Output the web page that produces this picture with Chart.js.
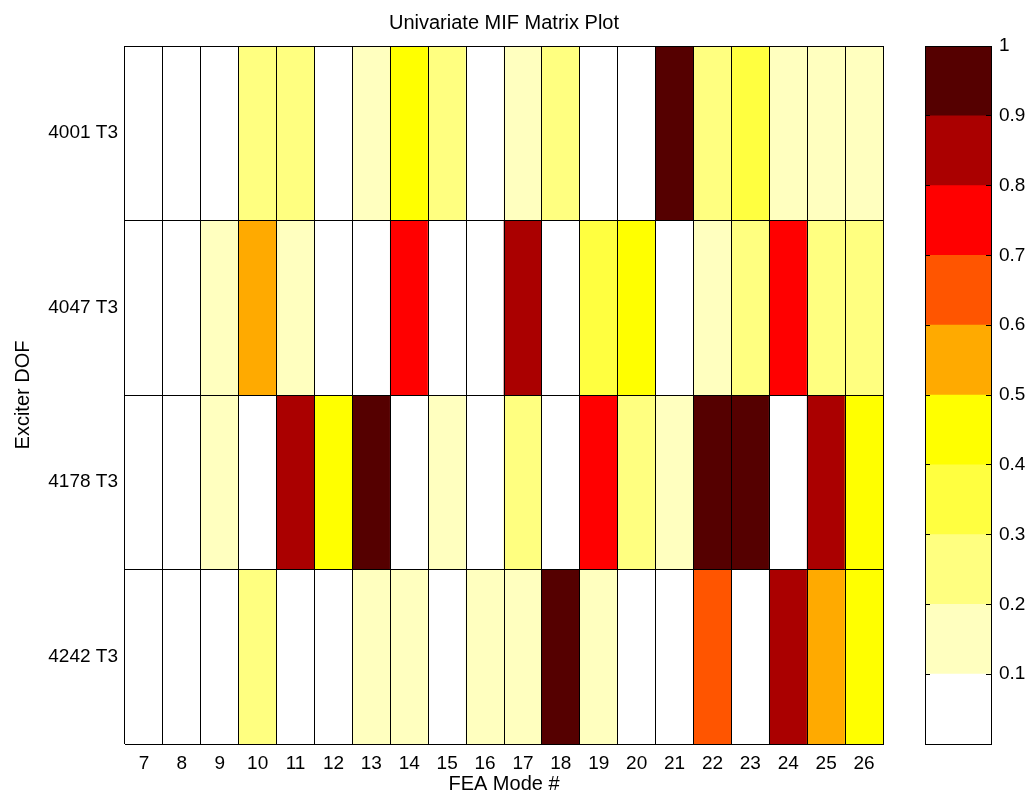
<!DOCTYPE html>
<html>
<head>
<meta charset="utf-8">
<script src="https://cdn.jsdelivr.net/npm/chart.js@4"></script>
<style>
html,body{margin:0;padding:0;background:#fff;}
#wrap{position:relative;width:1029px;height:794px;background:#fff;}
canvas{position:absolute;left:0;top:0;}
</style>
</head>
<body>
<div id="wrap">
<canvas id="main" width="1029" height="794"></canvas>
<canvas id="cbar" width="1029" height="794"></canvas>
</div>
<script>
// ---- data ----
const modes = ['7','8','9','10','11','12','13','14','15','16','17','18','19','20','21','22','23','24','25','26'];
const exciters = ['4001 T3','4047 T3','4178 T3','4242 T3'];
const mif4001 = [0.05,0.05,0.05,0.25,0.25,0.05,0.15,0.45,0.25,0.05,0.15,0.25,0.05,0.05,0.95,0.25,0.35,0.15,0.15,0.15];
const mif4047 = [0.05,0.05,0.15,0.55,0.15,0.05,0.05,0.75,0.05,0.05,0.85,0.05,0.35,0.45,0.05,0.15,0.25,0.75,0.25,0.25];
const mif4178 = [0.05,0.05,0.15,0.05,0.85,0.45,0.95,0.05,0.15,0.05,0.25,0.05,0.75,0.25,0.15,0.95,0.95,0.05,0.85,0.45];
const mif4242 = [0.05,0.05,0.05,0.25,0.05,0.05,0.15,0.15,0.05,0.15,0.15,0.95,0.15,0.05,0.05,0.65,0.05,0.85,0.55,0.45];
const colorLevels = [0,0.1,0.2,0.3,0.4,0.5,0.6,0.7,0.8,0.9,1];
const colormap = ['#FFFFFF','#FFFFBF','#FFFF80','#FFFF40','#FFFF00','#FFAA00','#FF5500','#FF0000','#AA0000','#550000'];

const mifRows = [mif4001, mif4047, mif4178, mif4242];
const FONT = '"Liberation Sans", Arial, Helvetica, sans-serif';

function colorOf(v) {
  let i = Math.floor(v * 10);
  if (i < 0) i = 0;
  if (i > 9) i = 9;
  return colormap[i];
}

Chart.defaults.font.family = FONT;
Chart.defaults.color = '#000';

// ---- main matrix ----
new Chart(document.getElementById('main'), {
  type: 'bar',
  data: {
    labels: modes,
    datasets: exciters.map((name, r) => ({
      label: name,
      data: modes.map(() => [r, r + 1]),
      backgroundColor: mifRows[r].map(colorOf),
      borderWidth: 0,
      barPercentage: 1,
      categoryPercentage: 1,
      grouped: false,
      xAxisID: 'x',
      yAxisID: 'y'
    }))
  },
  options: {
    responsive: false,
    animation: false,
    devicePixelRatio: 1,
    layout: { padding: { left: 0, right: 146, top: 0, bottom: 0 } },
    plugins: {
      legend: { display: false },
      tooltip: { enabled: false },
      title: {
        display: true,
        text: 'Univariate MIF Matrix Plot',
        color: '#000',
        fullSize: false,
        font: { family: FONT, size: 20, weight: 'normal', lineHeight: 1.2 },
        padding: { top: 11, bottom: 11 }
      }
    },
    scales: {
      x: {
        type: 'category',
        offset: true,
        grid: { display: true, offset: true, color: '#000', lineWidth: 1, drawTicks: false, z: 1 },
        border: { display: true, color: '#000', z: 1 },
        ticks: { color: '#000', font: { family: FONT, size: 19 }, padding: 8, maxRotation: 0, autoSkip: false },
        title: { display: true, text: 'FEA Mode #', color: '#000', font: { family: FONT, size: 20, lineHeight: 1 }, padding: { top: 0, bottom: 0 } },
        afterFit(s) { s.height = 50; }
      },
      y: {
        type: 'linear',
        position: 'left',
        min: 0,
        max: 4,
        reverse: true,
        ticks: { display: false, stepSize: 1 },
        grid: { color: '#000', lineWidth: 1, drawTicks: false, z: 1 },
        border: { display: false },
        afterFit(s) { s.width = 0; }
      },
      yl: {
        type: 'category',
        position: 'left',
        labels: exciters,
        offset: true,
        grid: { display: false, drawTicks: false },
        border: { display: false },
        ticks: { color: '#000', font: { family: FONT, size: 19 }, padding: 7 },
        title: { display: true, text: 'Exciter DOF', color: '#000', font: { family: FONT, size: 20, lineHeight: 1 }, padding: { top: 13, bottom: 0 } },
        afterFit(s) { s.width = 125; }
      }
    }
  }
});

// ---- colorbar ----
new Chart(document.getElementById('cbar'), {
  type: 'bar',
  data: {
    labels: [''],
    datasets: colormap.map((c, i) => ({
      label: String(colorLevels[i + 1]),
      data: [[colorLevels[i], colorLevels[i + 1]]],
      backgroundColor: c,
      borderWidth: 0,
      barPercentage: 1,
      categoryPercentage: 1,
      grouped: false,
      yAxisID: 'y'
    }))
  },
  options: {
    responsive: false,
    animation: false,
    devicePixelRatio: 1,
    layout: { padding: { left: 925, right: 0, top: 46, bottom: 0 } },
    plugins: { legend: { display: false }, tooltip: { enabled: false }, title: { display: false } },
    scales: {
      x: {
        type: 'category',
        offset: true,
        grid: { display: true, offset: true, color: '#000', drawTicks: false, z: 1 },
        border: { display: true, color: '#000', z: 1 },
        ticks: { display: false },
        afterFit(s) { s.height = 50; }
      },
      y: {
        type: 'linear',
        position: 'right',
        min: 0,
        max: 1,
        ticks: {
          stepSize: 0.1,
          color: '#000',
          font: { family: FONT, size: 19 },
          padding: 13,
          callback: (v) => (Math.abs(v) < 1e-9 ? '' : String(Math.round(v * 10) / 10))
        },
        grid: {
          z: 1,
          drawTicks: true,
          tickLength: -5,
          tickColor: '#000',
          color: (ctx) => (ctx.tick && (Math.abs(ctx.tick.value) < 1e-9 || Math.abs(ctx.tick.value - 1) < 1e-9)) ? '#000' : 'rgba(0,0,0,0)'
        },
        border: { display: true, color: '#000', z: 1 },
        afterFit(s) { s.width = 38; }
      },
      y2: {
        type: 'linear',
        position: 'left',
        min: 0,
        max: 1,
        ticks: { stepSize: 0.1, callback: () => '' , padding: 0},
        grid: { z: 1, drawOnChartArea: false, drawTicks: true, tickLength: -5, tickColor: '#000' },
        border: { display: false },
        afterFit(s) { s.width = 0; }
      }
    }
  }
});
</script>
</body>
</html>
